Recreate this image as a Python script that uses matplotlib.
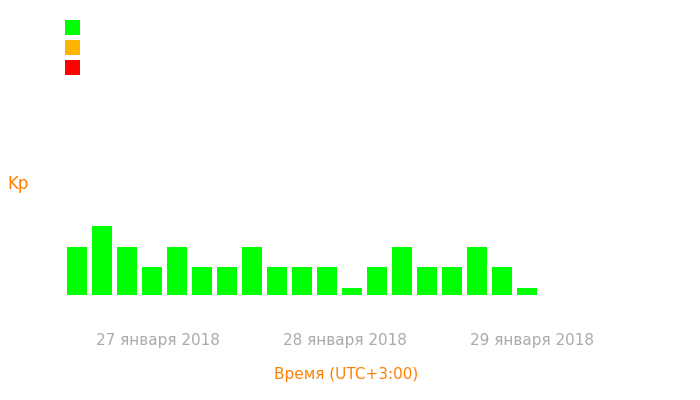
"""Kp-индекс по трёхчасовым интервалам."""

import matplotlib

matplotlib.use("Agg")
import matplotlib.pyplot as plt
from matplotlib.patches import Rectangle

# значения Kp по трёхчасовым интервалам
kp_values = [2.33, 3.33, 2.33, 1.33, 2.33, 1.33, 1.33, 2.33, 1.33, 1.33,
             1.33, 0.33, 1.33, 2.33, 1.33, 1.33, 2.33, 1.33, 0.33]
day_labels = ["27 января 2018", "28 января 2018", "29 января 2018"]
day_ticks = [3.25, 10.73, 18.2]
legend_colors = ["#00ff00", "#ffb400", "#ff0000"]

fig = plt.figure(figsize=(7, 4), dpi=100)
ax = fig.add_axes([60 / 700, 105 / 400, 630 / 700, 220 / 400])

x = list(range(len(kp_values)))
ax.bar(x, kp_values, width=0.8, color="#00ff00", linewidth=0)
ax.set_xlim(-0.668, 24.53)
ax.set_ylim(0, 10.63)

for side in ax.spines.values():
    side.set_visible(False)
ax.set_yticks([])
ax.set_xticks(day_ticks)
ax.set_xticklabels(day_labels, color="#aaaaaa", fontsize=11)
ax.tick_params(axis="x", length=0, pad=27)

fig.text(346 / 700, 1 - 374 / 400, "Время (UTC+3:00)", color="#ff8000",
         fontsize=11, ha="center", va="center")
fig.text(18 / 700, 1 - 184 / 400, "Kp", color="#ff8000",
         fontsize=12, ha="center", va="center")

for i, c in enumerate(legend_colors):
    fig.patches.append(Rectangle((65 / 700, 1 - (35 + 20 * i) / 400), 15 / 700, 15 / 400,
                                 transform=fig.transFigure, facecolor=c, edgecolor="none"))

fig.savefig("out.png")
